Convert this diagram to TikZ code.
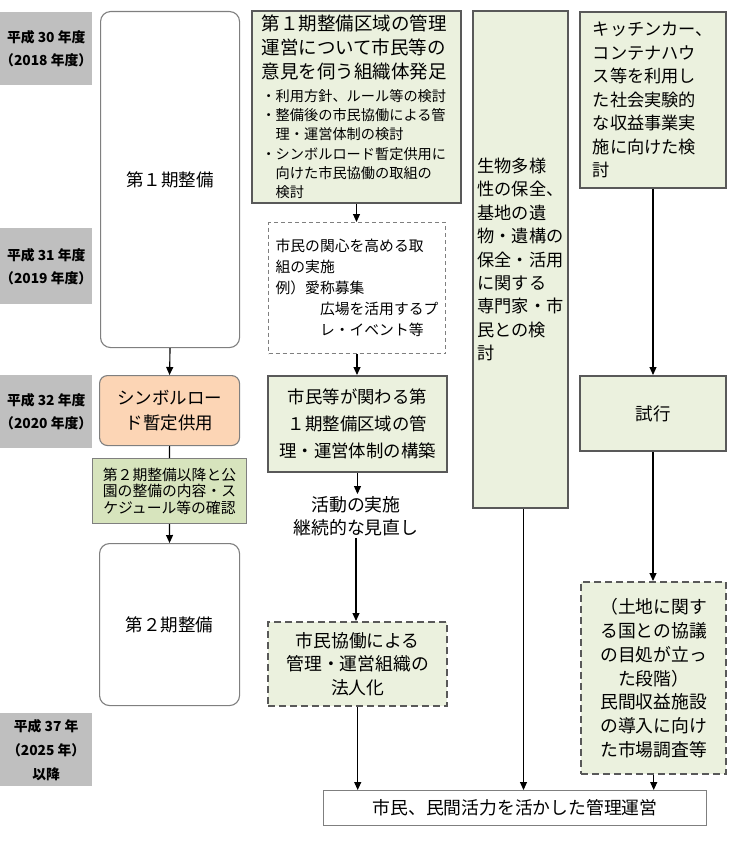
\documentclass[tikz,border=0pt]{standalone}
\usepackage{fontspec}
\setmainfont{Noto Sans CJK JP}
\usetikzlibrary{arrows.meta}
\definecolor{lblgray}{HTML}{BFBFBF}
\definecolor{lgreen}{HTML}{EBF1DE}
\definecolor{mgreen}{HTML}{D7E4BD}
\definecolor{peach}{HTML}{FCD5B5}
\definecolor{dkgray}{HTML}{595959}
\definecolor{mdgray}{HTML}{7F7F7F}
\begin{document}
\begin{tikzpicture}[x=1pt,y=-1pt,
  yearlbl/.style={fill=lblgray, inner sep=0pt, anchor=north west, align=center,
    font=\fontsize{13.8}{23}\selectfont\bfseries},
  phasebox/.style={draw=mdgray, line width=1.1pt, rounded corners=10pt, fill=white,
    inner sep=0pt, anchor=north west, align=center, font=\fontsize{17.5}{24}\selectfont},
  gbox/.style={draw=dkgray, line width=2pt, fill=lgreen, inner sep=0pt,
    anchor=north west, align=center, font=\fontsize{17.5}{24}\selectfont},
  dbox/.style={draw=dkgray, line width=2.4pt, dash pattern=on 7pt off 4pt, fill=lgreen,
    inner sep=0pt, anchor=north west, align=center, font=\fontsize{17.8}{23.7}\selectfont},
  arr/.style={draw=black, line width=1.1pt, -{Triangle[length=8pt,width=7pt]}},
  ln/.style={draw=black, line width=1.1pt}
]
\useasboundingbox (0,0) rectangle (733,845);

% year labels
\node[yearlbl, minimum width=92, minimum height=73] (y1) at (0,12) {平成 30 年度\\（2018 年度）};
\node[yearlbl, minimum width=92, minimum height=76] (y2) at (0,228) {平成 31 年度\\（2019 年度）};
\node[yearlbl, minimum width=92, minimum height=73] (y3) at (0,375) {平成 32 年度\\（2020 年度）};
\node[yearlbl, minimum width=92, minimum height=73, font=\fontsize{13.8}{24}\selectfont\bfseries] (y4) at (0,713) {平成 37 年\\（2025 年）\\以降};

% left column
\node[phasebox, minimum width=139, minimum height=336] (p1) at (100,11) {第１期整備};
\node[phasebox, fill=peach, rounded corners=8pt, minimum width=140, minimum height=70,
  font=\fontsize{17.5}{25}\selectfont] (sym) at (99,375) {シンボルロー\\ド暫定供用};
\node[draw=mdgray, line width=1pt, fill=mgreen, inner sep=0pt, anchor=north west,
  align=center, minimum width=154, minimum height=65,
  font=\fontsize{14.8}{16.5}\selectfont] (conf) at (92,458)
  {第２期整備以降と公\\園の整備の内容・ス\\ケジュール等の確認};
\node[phasebox, minimum width=140, minimum height=162] (p2) at (99,543) {第２期整備};

% middle column
\node[gbox, minimum width=209, minimum height=192, text width=190, align=left] (A) at (251,10)
  {{\fontsize{18.5}{24}\selectfont 第１期整備区域の管理\\運営について市民等の\\意見を伺う組織体発足\par}
   \vspace{3pt}
   {\fontsize{14.2}{19.3}\selectfont ・利用方針、ルール等の検討\\・整備後の市民協働による管\\\hphantom{・}理・運営体制の検討\\・シンボルロード暫定供用に\\\hphantom{・}向けた市民協働の取組の\\\hphantom{・}検討\par}};
\node[draw=mdgray, line width=1pt, dash pattern=on 4pt off 3pt, fill=white, inner sep=0pt,
  anchor=north west, align=left, minimum width=177, minimum height=131,
  font=\fontsize{14.8}{21}\selectfont] (B) at (268,222)
  {市民の関心を高める取\\組の実施\\例）愛称募集\\\hphantom{例）愛}広場を活用するプ\\\hphantom{例）愛}レ・イベント等};
\node[gbox, minimum width=179, minimum height=96, font=\fontsize{17.4}{27}\selectfont] (C) at (267,375)
  {市民等が関わる第\\１期整備区域の管\\理・運営体制の構築};
\node[inner sep=2pt, align=center, font=\fontsize{17.9}{23}\selectfont] (act) at (356,516)
  {活動の実施\\継続的な見直し};
\node[dbox, minimum width=179, minimum height=84] (D) at (267,621)
  {市民協働による\\管理・運営組織の\\法人化};

% biology column
\node[gbox, minimum width=95, minimum height=497, align=left,
  font=\fontsize{17.2}{23.4}\selectfont] (E) at (472,10)
  {生物多様\\性の保全、\\基地の遺\\物・遺構の\\保全・活用\\に関する\\専門家・市\\民との検\\討};

% right column
\node[gbox, minimum width=146, minimum height=176, align=left,
  font=\fontsize{17.2}{23.5}\selectfont] (F) at (579,11)
  {キッチンカー、\\コンテナハウ\\ス等を利用し\\た社会実験的\\な収益事業実\\施に向けた検\\討};
\node[gbox, minimum width=146, minimum height=75] (G) at (579,375) {試行};
\node[dbox, minimum width=145, minimum height=192] (H) at (580,581)
  {（土地に関す\\る国との協議\\の目処が立っ\\た段階）\\民間収益施設\\の導入に向け\\た市場調査等};

% final
\node[draw=mdgray, line width=1pt, fill=white, inner sep=0pt, anchor=north west,
  minimum width=383, minimum height=35, font=\fontsize{17.8}{22}\selectfont] (fin) at (323,790)
  {市民、民間活力を活かした管理運営};

% connectors
\draw[arr] (p1.south) -- (sym.north);
\draw[ln] (sym.south) -- (conf.north);
\draw[arr] (conf.south) -- (p2.north);
\draw[arr] (A.south) -- (A.south |- B.north);
\draw[arr] (B.south) -- (B.south |- C.north);
\draw[arr] (C.south) -- (C.south |- act.north);
\draw[arr] (act.south) -- (act.south |- D.north);
\draw[arr] (D.south) -- (D.south |- fin.north);
\draw[arr] ([xshift=3pt]E.south) -- ([xshift=3pt]E.south |- fin.north);
\draw[arr] (F.south) -- (G.north);
\draw[arr] (G.south) -- (G.south |- H.north);
\draw[arr] (H.south) -- (H.south |- fin.north);
\end{tikzpicture}
\end{document}
